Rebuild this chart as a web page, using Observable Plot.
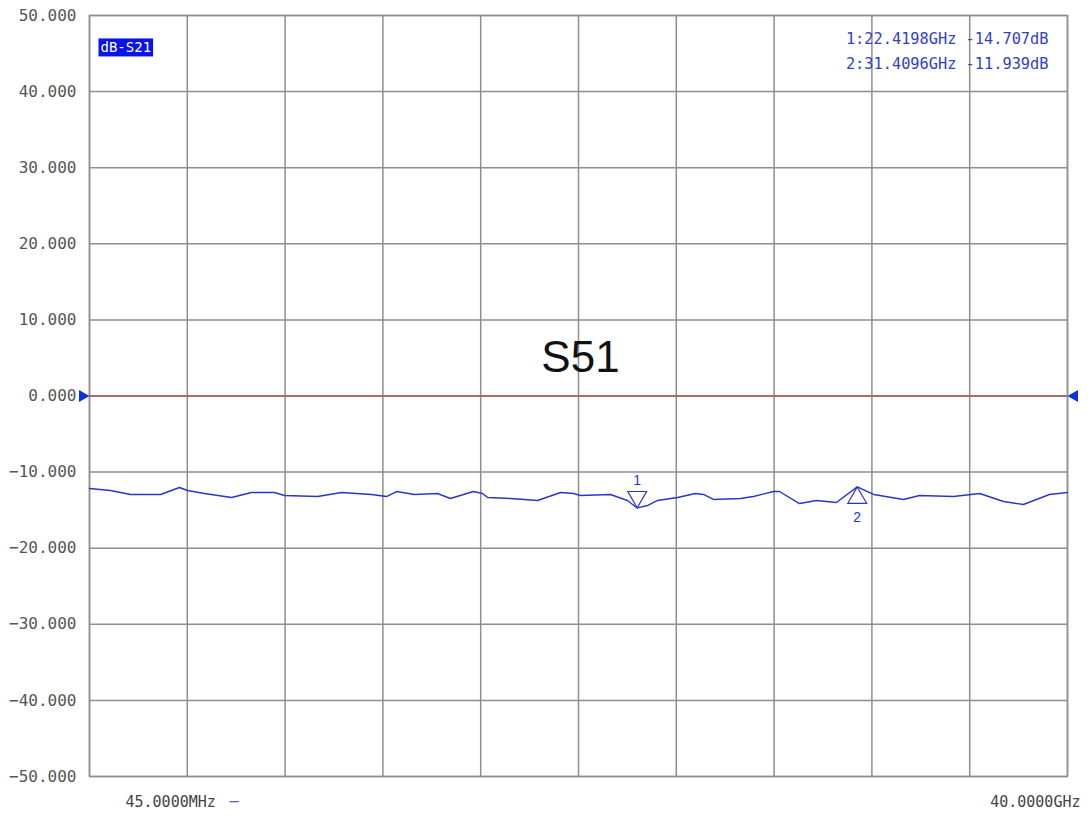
<!DOCTYPE html>
<html><head><meta charset="utf-8">
<script src="https://cdn.jsdelivr.net/npm/d3@7"></script>
<script src="https://cdn.jsdelivr.net/npm/@observablehq/plot@0.6"></script>
<style>body{margin:0;background:#fff}#chart{width:1088px;height:820px}</style>
</head><body><div id="chart"></div>
<script>
// ---- data ----
const freqGHz = [0.045,0.90,1.72,2.95,3.72,4.05,4.74,5.85,6.66,7.60,8.01,9.36,10.34,11.57,12.18,12.59,13.32,14.26,14.79,15.73,16.10,16.31,17.25,18.35,19.29,19.82,20.10,21.33,22.02,22.42,22.84,23.25,24.07,24.80,25.13,25.54,26.64,27.17,27.99,28.23,29.05,29.75,30.56,31.41,32.08,33.30,33.95,35.34,36.41,37.39,38.20,39.26,40.0];
const traceDb = [-12.16,-12.42,-12.94,-12.94,-12.02,-12.42,-12.81,-13.34,-12.68,-12.68,-13.07,-13.21,-12.68,-12.94,-13.21,-12.55,-12.94,-12.81,-13.47,-12.55,-12.81,-13.34,-13.47,-13.73,-12.68,-12.81,-13.07,-12.94,-13.73,-14.71,-14.39,-13.73,-13.34,-12.81,-12.94,-13.60,-13.47,-13.21,-12.55,-12.55,-14.13,-13.73,-13.99,-11.94,-12.94,-13.60,-13.07,-13.21,-12.81,-13.86,-14.26,-12.94,-12.68];
const yTicks = [50,40,30,20,10,0,-10,-20,-30,-40,-50];
const markerIds = [1,2];
const markerFreq = [22.4198,31.4096];
const markerDb = [-14.707,-11.939];
const startGHz = 0.045, stopGHz = 40, divisions = 10;
const startLabel = "45.0000MHz", stopLabel = "40.0000GHz";
const traceLabel = "dB-S21";
const chartTitle = "S51";

// ---- build ----
const trace = freqGHz.map((f,i)=>({f, db: traceDb[i]}));
const markers = markerIds.map((id,i)=>({id, f: markerFreq[i], db: markerDb[i]}));
const xGrid = d3.range(divisions+1).map(k => startGHz + k*(stopGHz-startGHz)/divisions);
const markerLines = markers.map(m => `${m.id}:${m.f.toFixed(4)}GHz ${m.db.toFixed(3)}dB`);
const gridColor = "#8e8e8e", blue = "#2a35c8";

const chart = Plot.plot({
  width: 1088, height: 820,
  marginLeft: 89, marginRight: 21, marginTop: 15, marginBottom: 44,
  style: {fontFamily: "DejaVu Sans Mono", fontSize: "16px", color: "#555", background: "#fff"},
  x: {domain: [startGHz, stopGHz], axis: null},
  y: {domain: [-50, 50], ticks: yTicks, tickFormat: d => d.toFixed(3).replace("-", "\u2212"), tickSize: 0, tickPadding: 13, label: null},
  marks: [
    Plot.ruleX(xGrid, {stroke: gridColor, strokeWidth: 1.5}),
    Plot.ruleY(yTicks, {stroke: gridColor, strokeWidth: 1.5}),
    Plot.frame({stroke: gridColor, strokeWidth: 1.5}),
    Plot.ruleY([0], {stroke: "#a05a5a", strokeWidth: 1.3}),
    Plot.line(trace, {x: "f", y: "db", stroke: blue, strokeWidth: 1.4}),
    // marker triangles
    Plot.dot(markers.filter(m=>m.id===1), {x: "f", y: "db", symbol: "triangle", r: 7, rotate: 180, dy: -11, stroke: blue, fill: "none", strokeWidth: 1.2}),
    Plot.dot(markers.filter(m=>m.id===2), {x: "f", y: "db", symbol: "triangle", r: 7, dy: 11, stroke: blue, fill: "none", strokeWidth: 1.2}),
    Plot.text(markers.filter(m=>m.id===1), {x: "f", y: "db", text: d=>String(d.id), dy: -27, fill: blue, fontSize: 14, fontFamily: "Liberation Sans"}),
    Plot.text(markers.filter(m=>m.id===2), {x: "f", y: "db", text: d=>String(d.id), dy: 31, fill: blue, fontSize: 14, fontFamily: "Liberation Sans"}),
    // reference-level arrows
    Plot.dot([0], {x: () => startGHz, y: d => d, symbol: "triangle", r: 4.5, rotate: 90, dx: -7, fill: "#1030e0", stroke: "none"}),
    Plot.dot([0], {x: () => stopGHz, y: d => d, symbol: "triangle", r: 4.5, rotate: -90, dx: 7, fill: "#1030e0", stroke: "none"}),
    // marker readout
    Plot.text([markerLines[0]], {text: d => d, frameAnchor: "top-right", textAnchor: "end", dx: -19, dy: 18, fill: "#3040cc", fontSize: 15.3}),
    Plot.text([markerLines[1]], {text: d => d, frameAnchor: "top-right", textAnchor: "end", dx: -19, dy: 43, fill: "#3040cc", fontSize: 15.3}),
    // trace label
    Plot.text([traceLabel], {text: d => d, frameAnchor: "top-left", textAnchor: "start", dx: 11, dy: 27, fill: "#fff", fontSize: 14, className: "trace-label"}),
    // title
    Plot.text([chartTitle], {text: d => d, frameAnchor: "middle", dx: 2, dy: -38, fill: "#111", fontSize: 44, fontFamily: "Liberation Sans"}),
    // start/stop labels
    Plot.text([startLabel], {text: d => d, frameAnchor: "bottom-left", textAnchor: "start", dx: 36, dy: 30, fill: "#444", fontSize: 15}),
    Plot.text(["\u2014"], {text: d => d, frameAnchor: "bottom-left", textAnchor: "start", dx: 140, dy: 29, fill: "#5060c0", fontSize: 15}),
    Plot.text([stopLabel], {text: d => d, frameAnchor: "bottom-right", textAnchor: "end", dx: 13, dy: 30, fill: "#444", fontSize: 15})
  ]
});
document.getElementById("chart").appendChild(chart);
// blue box behind trace label (same coordinate frame as the text)
const lab = d3.select(chart).select(".trace-label text");
if (!lab.empty()) {
  const node = lab.node();
  const bb = node.getBBox();
  d3.select(node.parentNode).insert("rect", () => node)
    .attr("transform", node.getAttribute("transform"))
    .attr("x", bb.x - 2).attr("y", bb.y - 1).attr("width", bb.width + 4).attr("height", bb.height + 2)
    .attr("fill", "#0a14e6");
}
</script>
</body></html>
